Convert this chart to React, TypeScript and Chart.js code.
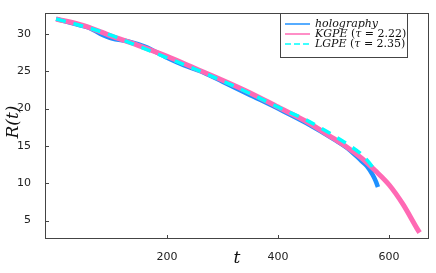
import React, { useEffect, useRef } from "react";
import { Chart, registerables } from "chart.js";

Chart.register(...registerables);

const holoT = [0, 40, 60, 80, 100, 130, 160, 200, 230, 260, 300, 350, 400, 450, 500, 530, 550, 560, 570, 576, 580];
const holoR = [32.0, 31.2, 30.8, 30.0, 29.4, 29.0, 28.3, 26.8, 25.8, 25.0, 23.6, 21.8, 20.0, 18.1, 15.9, 14.4, 13.0, 12.3, 11.2, 10.3, 9.5];

const kgpeT = [0, 50, 100, 150, 200, 250, 300, 350, 400, 450, 500, 525, 550, 575, 600, 625, 650, 655];
const kgpeR = [32.0, 31.1, 29.7, 28.4, 27.0, 25.4, 23.8, 22.1, 20.2, 18.3, 16.0, 14.8, 13.4, 11.7, 9.8, 7.2, 4.0, 3.4];

const lgpeT = [0, 50, 100, 150, 200, 250, 300, 350, 400, 450, 500, 530, 550, 565, 575];
const lgpeR = [32.0, 31.0, 29.8, 28.3, 26.8, 25.3, 23.7, 22.0, 20.2, 18.5, 16.4, 15.0, 13.9, 12.7, 11.7];

const xTicks = [200, 400, 600];
const yTicks = [5, 10, 15, 20, 25, 30];

const legendItems = [
  { it: "holography", rest: "", tau: "" },
  { it: "KGPE", rest: " = 2.22)", tau: "τ" },
  { it: "LGPE", rest: " = 2.35)", tau: "τ" },
];

const colors = ["#1E90FF", "#FF69B4", "#00FFFF"];

const pts = (t: number[], r: number[]) => t.map((v, i) => ({ x: v, y: r[i] }));

const overlay = {
  id: "overlay",
  afterDraw(chart: any) {
    const ctx = chart.ctx;
    const a = chart.chartArea;
    const xs = chart.scales.x;
    const ys = chart.scales.y;
    ctx.save();
    ctx.strokeStyle = "#444";
    ctx.lineWidth = 1;
    ctx.strokeRect(Math.round(a.left) + 0.5, Math.round(a.top) + 0.5, Math.round(a.right - a.left) - 1, Math.round(a.bottom - a.top) - 1);
    ctx.beginPath();
    xTicks.forEach((v) => {
      const px = Math.round(xs.getPixelForValue(v)) + 0.5;
      ctx.moveTo(px, a.bottom);
      ctx.lineTo(px, a.bottom - 4);
    });
    yTicks.forEach((v) => {
      const py = Math.round(ys.getPixelForValue(v)) + 0.5;
      ctx.moveTo(a.left, py);
      ctx.lineTo(a.left + 4, py);
    });
    ctx.stroke();

    // axis titles
    ctx.fillStyle = "#111";
    ctx.font = "italic 17px 'DejaVu Serif'";
    ctx.textAlign = "center";
    ctx.textBaseline = "alphabetic";
    ctx.fillText("t", (a.left + a.right) / 2, 263);
    ctx.save();
    ctx.translate(18, 122);
    ctx.rotate(-Math.PI / 2);
    ctx.fillText("R(t)", 0, 0);
    ctx.restore();

    // legend
    const bx = 280, by = 13, bw = 127, bh = 44;
    ctx.fillStyle = "#fff";
    ctx.fillRect(bx, by, bw, bh);
    ctx.strokeStyle = "#444";
    ctx.strokeRect(bx + 0.5, by + 0.5, bw, bh);
    const rows = [24, 34, 44];
    legendItems.forEach((item, i) => {
      const y = rows[i];
      ctx.strokeStyle = colors[i];
      ctx.lineWidth = 1.5;
      ctx.setLineDash(i === 2 ? [6, 3] : []);
      ctx.beginPath();
      ctx.moveTo(285, y);
      ctx.lineTo(310, y);
      ctx.stroke();
      ctx.setLineDash([]);
      ctx.fillStyle = "#111";
      ctx.textAlign = "left";
      ctx.textBaseline = "middle";
      let x = 315;
      ctx.font = "italic 11px 'DejaVu Serif'";
      ctx.fillText(item.it, x, y);
      x += ctx.measureText(item.it).width;
      if (item.tau) {
        ctx.font = "11px 'DejaVu Serif'";
        ctx.fillText(" (", x, y);
        x += ctx.measureText(" (").width;
        ctx.font = "italic 11px 'DejaVu Serif'";
        ctx.fillText(item.tau, x, y);
        x += ctx.measureText(item.tau).width;
        ctx.font = "11px 'DejaVu Serif'";
        ctx.fillText(item.rest, x, y);
      }
    });
    ctx.restore();
  },
};

export default function App() {
  const ref = useRef<HTMLCanvasElement>(null);
  useEffect(() => {
    if (!ref.current) return;
    const tickFont = { family: "'DejaVu Sans'", size: 11 };
    const chart = new Chart(ref.current, {
      type: "line",
      data: {
        datasets: [
          { label: "holography", data: pts(holoT, holoR), borderColor: colors[0], borderWidth: 4.5, pointRadius: 0, cubicInterpolationMode: "monotone", order: 3 },
          { label: "KGPE", data: pts(kgpeT, kgpeR), borderColor: colors[1], borderWidth: 5, pointRadius: 0, cubicInterpolationMode: "monotone", order: 2 },
          { label: "LGPE", data: pts(lgpeT, lgpeR), borderColor: colors[2], borderWidth: 3.5, borderDash: [10, 8], pointRadius: 0, cubicInterpolationMode: "monotone", order: 1 },
        ],
      },
      options: {
        animation: false,
        responsive: false,
        events: [],
        layout: { padding: { left: 0, right: 7, top: 5, bottom: 0 } },
        plugins: { legend: { display: false }, tooltip: { enabled: false } },
        scales: {
          x: {
            type: "linear",
            min: -20,
            max: 672,
            afterBuildTicks: (s: any) => { s.ticks = xTicks.map((v) => ({ value: v })); },
            afterFit: (s: any) => { s.height = 34; },
            grid: { display: false },
            border: { display: false },
            ticks: { font: tickFont, color: "#222", padding: 4, maxRotation: 0 },
          },
          y: {
            type: "linear",
            min: 2.54,
            max: 32.85,
            afterBuildTicks: (s: any) => { s.ticks = yTicks.map((v) => ({ value: v })); },
            afterFit: (s: any) => { s.width = 45; },
            grid: { display: false },
            border: { display: false },
            ticks: { font: tickFont, color: "#222", padding: 6 },
          },
        },
      } as any,
      plugins: [overlay],
    });
    return () => chart.destroy();
  }, []);
  return (
    <div style={{ position: "absolute", left: 0, top: 0, width: 436, height: 273, background: "#fff" }}>
      <canvas ref={ref} width={436} height={273} style={{ width: 436, height: 273 }} />
    </div>
  );
}
